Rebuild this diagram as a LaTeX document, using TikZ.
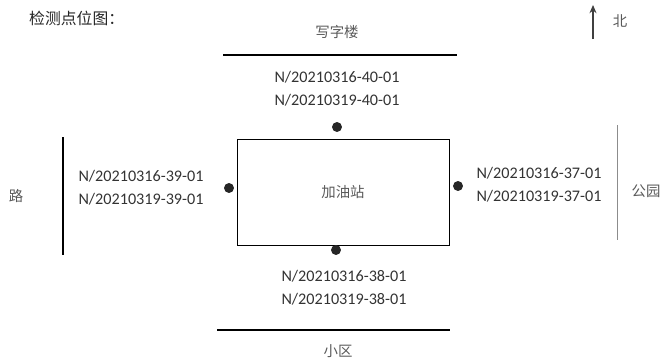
\documentclass[tikz,border=0pt]{standalone}
\usepackage{fontspec}
\setmainfont{Carlito}
\newfontfamily\cjk{Noto Sans CJK SC}
\usetikzlibrary{positioning,arrows.meta}

\begin{document}
\begin{tikzpicture}[%
    x=0.03cm,
    y=-0.03cm,
    >={Stealth[length=7pt,width=6pt]},
    sample/.style={%
      align=center,
      inner sep=0pt,
      font=\fontsize{13.8}{19.6}\selectfont,
      text=black!80
    },
    place/.style={%
      inner sep=0pt,
      font=\cjk\fontsize{12.3}{14}\selectfont,
      text=black!65
    },
    spot/.style={%
      circle,
      inner sep=0pt,
      minimum size=8.5pt,
      fill=black!85
    }
  ]
    \useasboundingbox (0,0) rectangle (667,363);

    \node[place, anchor=west, font=\cjk\fontsize{13.5}{14}\selectfont,
          text=black!85] (title) at (29,18) {检测点位图：};

    % north sign
    \coordinate (s) at (593,39);
    \coordinate (n) at (593,5);
    \draw[->, black!75, line width=1pt] (s) -- (n);
    \node[place] (north) at (620,21) {北};

    % station and sampling points
    \node[draw, line width=0.8pt, minimum width=6.36cm, minimum height=3.18cm,
          place] (station) at (343,192) {加油站};
    \node[spot] (p40) at (337,127) {};
    \node[spot] (p39) at (229,188) {};
    \node[spot] (p37) at (458,186) {};
    \node[spot] (p38) at (336,250) {};

    \node[sample] (l40) at (337,89)  {N/20210316-40-01\\N/20210319-40-01};
    \node[sample] (l39) at (141,188) {N/20210316-39-01\\N/20210319-39-01};
    \node[sample] (l37) at (539,185) {N/20210316-37-01\\N/20210319-37-01};
    \node[sample] (l38) at (344,288) {N/20210316-38-01\\N/20210319-38-01};

    % surroundings
    \node[place] (office) at (337,32)  {写字楼};
    \node[place] (road)   at (16,196)  {路};
    \node[place] (park)   at (646,191) {公园};
    \node[place] (home)   at (338,351) {小区};

    \draw[line width=0.9pt] (223,55) -- (457,55);
    \draw[line width=0.9pt] (217,330) -- (450,330);
    \draw[line width=0.9pt] (63,137) -- (63,255);
    \draw[line width=0.8pt, black!45] (617,125) -- (617,240);
\end{tikzpicture}
\end{document}
